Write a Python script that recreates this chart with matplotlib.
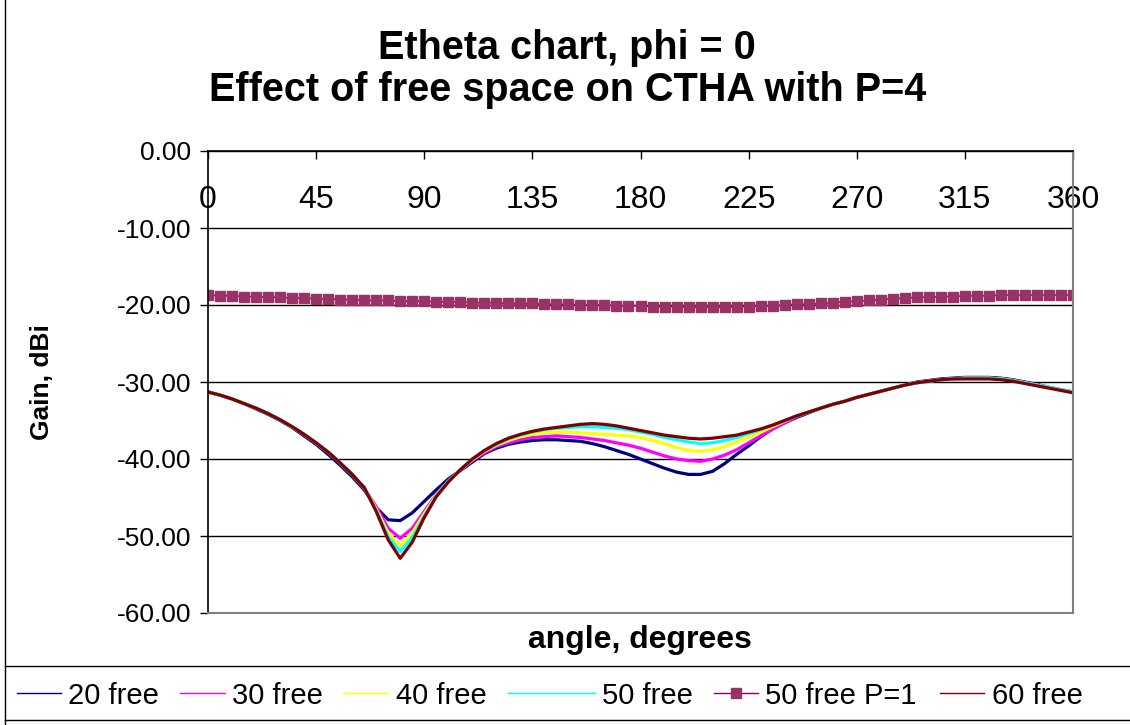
import matplotlib
matplotlib.use("Agg")
import matplotlib.pyplot as plt
from matplotlib.lines import Line2D

plt.rcParams['font.family'] = ['Liberation Sans', 'DejaVu Sans']
plt.rcParams['axes.unicode_minus'] = False

angles = list(range(0, 361, 5))

# gain, dBi every 5 degrees
free_20 = [-31.3, -31.7, -32.2, -32.8, -33.5, -34.2, -35.0, -35.9, -37.0, -38.1,
           -39.4, -40.8, -42.3, -44.0, -46.3, -47.9, -48.0, -47.0, -45.5, -44.0,
           -42.6, -41.5, -40.4, -39.3, -38.6, -38.1, -37.8, -37.6, -37.5, -37.5,
           -37.6, -37.7, -38.0, -38.4, -38.9, -39.4, -40.0, -40.6, -41.2, -41.7,
           -42.0, -42.0, -41.6, -40.6, -39.4, -38.3, -37.1, -36.1, -35.3, -34.6,
           -34.0, -33.4, -32.9, -32.5, -32.0, -31.6, -31.2, -30.8, -30.4, -30.0,
           -29.8, -29.6, -29.5, -29.4, -29.4, -29.4, -29.5, -29.7, -30.0, -30.3,
           -30.7, -31.0, -31.3]
free_30 = [-31.3, -31.7, -32.2, -32.8, -33.4, -34.1, -34.9, -35.8, -36.8, -37.9,
           -39.1, -40.5, -42.0, -43.8, -46.2, -49.0, -50.3, -49.0, -46.8, -44.6,
           -42.9, -41.4, -40.2, -39.2, -38.4, -37.9, -37.5, -37.2, -37.1, -37.0,
           -37.1, -37.2, -37.4, -37.6, -37.9, -38.2, -38.6, -39.1, -39.6, -40.0,
           -40.2, -40.3, -40.0, -39.5, -38.8, -37.9, -37.0, -36.1, -35.3, -34.5,
           -33.9, -33.4, -32.9, -32.5, -32.0, -31.6, -31.2, -30.8, -30.4, -30.1,
           -29.9, -29.7, -29.6, -29.5, -29.5, -29.5, -29.6, -29.8, -30.1, -30.4,
           -30.7, -31.0, -31.3]
free_40 = [-31.3, -31.7, -32.2, -32.8, -33.4, -34.1, -34.9, -35.8, -36.8, -37.9,
           -39.1, -40.5, -42.0, -43.7, -46.5, -49.6, -51.2, -49.6, -47.1, -44.7,
           -42.9, -41.4, -40.1, -39.0, -38.2, -37.6, -37.1, -36.8, -36.6, -36.5,
           -36.5, -36.6, -36.7, -36.8, -36.9, -37.0, -37.2, -37.6, -38.0, -38.5,
           -38.9, -39.0, -38.8, -38.4, -37.8, -37.2, -36.5, -35.8, -35.1, -34.4,
           -33.9, -33.4, -32.9, -32.5, -32.0, -31.6, -31.2, -30.8, -30.4, -30.1,
           -29.9, -29.7, -29.6, -29.5, -29.5, -29.5, -29.6, -29.8, -30.1, -30.4,
           -30.7, -31.0, -31.3]
free_50 = [-31.3, -31.7, -32.2, -32.8, -33.4, -34.1, -34.9, -35.8, -36.8, -37.9,
           -39.1, -40.5, -42.0, -43.7, -46.7, -50.1, -52.0, -50.2, -47.4, -44.8,
           -42.9, -41.4, -40.0, -38.9, -38.1, -37.4, -36.9, -36.5, -36.2, -36.0,
           -35.9, -35.8, -35.8, -35.9, -36.0, -36.2, -36.5, -36.8, -37.2, -37.5,
           -37.8, -38.0, -37.9, -37.6, -37.2, -36.7, -36.2, -35.6, -35.0, -34.4,
           -33.9, -33.4, -32.9, -32.5, -32.0, -31.6, -31.2, -30.8, -30.4, -30.1,
           -29.9, -29.7, -29.6, -29.5, -29.5, -29.5, -29.6, -29.8, -30.1, -30.4,
           -30.7, -31.0, -31.3]
free_50_p1 = [-18.7, -18.8, -18.8, -18.9, -18.9, -19.0, -19.0, -19.1, -19.1, -19.2,
              -19.2, -19.3, -19.3, -19.4, -19.4, -19.4, -19.5, -19.5, -19.5, -19.6,
              -19.6, -19.6, -19.7, -19.7, -19.7, -19.8, -19.8, -19.8, -19.9, -19.9,
              -19.9, -20.0, -20.0, -20.0, -20.1, -20.1, -20.1, -20.2, -20.2, -20.2,
              -20.3, -20.3, -20.3, -20.3, -20.2, -20.2, -20.1, -20.1, -20.0, -19.9,
              -19.9, -19.8, -19.7, -19.6, -19.5, -19.4, -19.3, -19.2, -19.1, -19.0,
              -19.0, -18.9, -18.9, -18.8, -18.8, -18.8, -18.7, -18.7, -18.7, -18.7,
              -18.7, -18.7, -18.7]
free_60 = [-31.3, -31.7, -32.2, -32.8, -33.4, -34.1, -34.9, -35.8, -36.8, -37.9,
           -39.1, -40.5, -42.0, -43.7, -46.8, -50.5, -52.9, -50.8, -47.6, -44.9,
           -43.0, -41.4, -40.0, -38.9, -38.0, -37.3, -36.8, -36.4, -36.1, -35.9,
           -35.7, -35.5, -35.4, -35.5, -35.7, -36.0, -36.3, -36.6, -36.9, -37.1,
           -37.3, -37.4, -37.3, -37.1, -36.9, -36.5, -36.1, -35.6, -35.0, -34.4,
           -33.9, -33.4, -32.9, -32.5, -32.0, -31.6, -31.2, -30.8, -30.4, -30.1,
           -29.9, -29.7, -29.6, -29.6, -29.6, -29.6, -29.7, -29.9, -30.2, -30.5,
           -30.8, -31.1, -31.4]

series = [
    ("20 free", free_20, "#000080"),
    ("30 free", free_30, "#FF00FF"),
    ("40 free", free_40, "#FFFF00"),
    ("50 free", free_50, "#00FFFF"),
]

x_ticks = list(range(0, 361, 45))
y_ticks = list(range(0, -61, -10))

W, H = 1130, 725
fig = plt.figure(figsize=[W / 100, H / 100], dpi=100)
ax = fig.add_axes([208 / W, 1 - 613 / H, 865 / W, 462 / H])

for label, vals, color in series:
    ax.plot(angles, vals, color=color, lw=2.3, label=label)
ax.plot(angles, free_50_p1, color="#800080", lw=1.2, marker="s", ms=7.5,
        mfc="#993366", mec="#993366", label="50 free P=1")
ax.plot(angles, free_60, color="#800000", lw=2.3, label="60 free")

ax.set_xlim(0, 360)
ax.set_ylim(-60, 0)
ax.set_yticks(y_ticks)
ax.set_yticklabels(["%.2f" % v for v in y_ticks], fontsize=19)
ax.set_xticks(x_ticks)
ax.xaxis.tick_top()
ax.set_xticklabels([str(v) for v in x_ticks], fontsize=23)
ax.tick_params(axis="x", direction="in", length=6, pad=-46, width=1)
ax.tick_params(axis="y", direction="out", length=6, width=1, pad=6)
ax.yaxis.grid(True, color="black", lw=1)
ax.set_axisbelow(True)

for side in ["top", "left"]:
    ax.spines[side].set_color("black")
    ax.spines[side].set_linewidth(1.2)
for side in ["right", "bottom"]:
    ax.spines[side].set_color("#808080")
    ax.spines[side].set_linewidth(1.5)

ax.set_ylabel("Gain, dBi", fontsize=19, fontweight="bold")
ax.yaxis.set_label_coords(-154 / 865, 0.5)
fig.text(640 / W, 1 - 640 / H, "angle, degrees", fontsize=23,
         fontweight="bold", ha="center", va="center")

fig.text(0.502, 1 - 48 / H, "Etheta chart, phi = 0", fontsize=28.5,
         fontweight="bold", ha="center", va="center")
fig.text(0.502, 1 - 90 / H, "Effect of free space on CTHA with P=4",
         fontsize=28.5, fontweight="bold", ha="center", va="center")

# chart area left edge and legend box lines
fig.add_artist(Line2D([5 / W, 5 / W], [0, 1], transform=fig.transFigure,
                      color="black", lw=1))
for yy in [666, 720]:
    fig.add_artist(Line2D([5 / W, 1], [1 - yy / H, 1 - yy / H],
                          transform=fig.transFigure, color="black", lw=1))

# legend entries laid out like the Excel legend (pixel positions)
legend_slots = [(17, 61, 68), (180, 225, 232), (343, 388, 396),
                (508, 595, 602), (714, 758, 765), (940, 984, 992)]
legend_items = [(s[0], s[2]) for s in series] + [("50 free P=1", "#800080"),
                                                 ("60 free", "#800000")]
ly = 1 - 693 / H
for (label, color), (x0, x1, xt) in zip(legend_items, legend_slots):
    fig.add_artist(Line2D([x0 / W, x1 / W], [ly, ly], transform=fig.transFigure,
                          color=color, lw=1.0))
    if label == "50 free P=1":
        fig.add_artist(Line2D([(x0 + x1) / 2 / W], [ly], transform=fig.transFigure,
                              marker="s", ms=7, mfc="#993366", mec="#993366"))
    fig.text(xt / W, ly, label, fontsize=21, ha="left", va="center_baseline")

fig.savefig("out.png", dpi=100)
